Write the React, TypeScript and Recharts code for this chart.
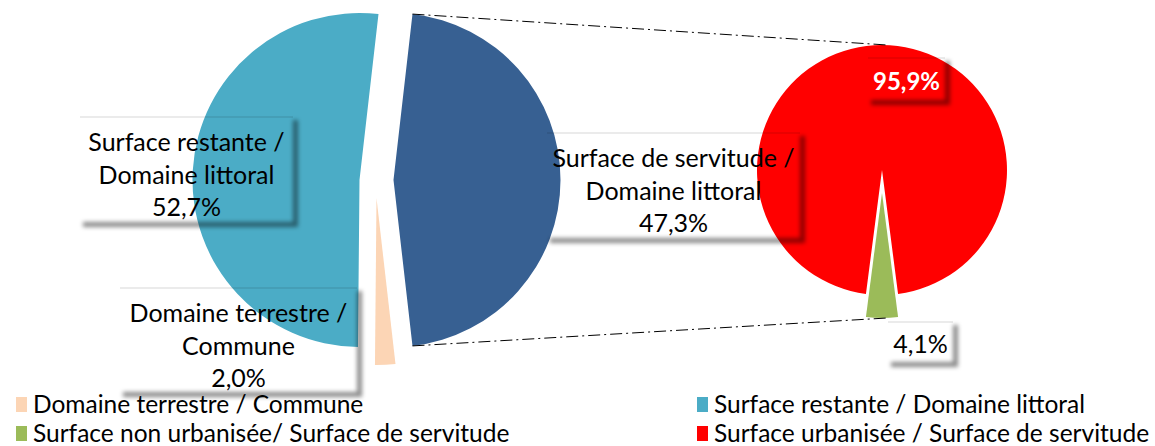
import React from 'react';
import { PieChart, Pie, Cell, Legend } from 'recharts';

// left pie: the main split
const leftNames = [
  'Surface restante / Domaine littoral',
  'Domaine terrestre / Commune',
  'Surface de servitude / Domaine littoral',
];
const leftValues = [52.7, 2.0, 47.3];
const leftPercents = ['52,7%', '2,0%', '47,3%'];

// right pie: breakdown of the servitude slice
const rightNames = [
  'Surface urbanisée / Surface de servitude',
  'Surface non urbanisée/ Surface de servitude',
];
const rightValues = [95.9, 4.1];
const rightPercents = ['95,9%', '4,1%'];

const legendNames = [
  'Domaine terrestre / Commune',
  'Surface restante / Domaine littoral',
  'Surface non urbanisée/ Surface de servitude',
  'Surface urbanisée / Surface de servitude',
];

const leftColors = ['#4BACC6', '#FCD5B5', '#376092'];
const rightColors = ['#FF0000', '#9BBB59'];
const legendColors = ['#FCD5B5', '#4BACC6', '#9BBB59', '#FF0000'];

const W = 1155;
const H = 446;
const FONT = 'Lato, "Liberation Sans", sans-serif';

const leftData = leftNames.map((name, i) => ({ name, value: leftValues[i] }));
const rightData = rightNames.map((name, i) => ({ name, value: rightValues[i] }));

const sum = (a: number[]) => a.reduce((s, v) => s + v, 0);

// the "other" slice sits centred on the horizontal axis, as in Excel pie-of-pie
const leftSpan = (i: number) => (360 * leftValues[i]) / sum(leftValues);
const LEFT_START = leftSpan(2) / 2;
const LEFT_END = LEFT_START + 360;
// small slice of the second pie points straight down
const RIGHT_START = 270 + (180 * rightValues[1]) / sum(rightValues);
const RIGHT_END = RIGHT_START + 360;

const LEFT = { cx: 359.5, cy: 180, r: 167 };
const leftOffsets = [
  [0, 0],
  [17, 18],
  [34, 0],
];
const RIGHT = { cx: 882, cy: 170, r: 125 };
const rightOffsets = [
  [0, 0],
  [0, 23],
];

// label boxes placed like the original
const leftBoxes = [
  { x: 80, y: 117, w: 213, h: 105 },
  { x: 120, y: 288, w: 237, h: 104 },
  { x: 547, y: 133, w: 253, h: 105 },
];
const rightBoxes = [
  { x: 868, y: 58, w: 77, h: 42 },
  { x: 888, y: 322, w: 65, h: 40 },
];

const rad = (a: number) => (a * Math.PI) / 180;

type Box = { x: number; y: number; w: number; h: number };

const ShadowBox = ({ b }: { b: Box }) => {
  const d = 5;
  // right and bottom strips only, blurred
  const right = `M${b.x + b.w},${b.y + 3}h${d}v${b.h + d - 3}h${-d}Z`;
  const bottom = `M${b.x + 3},${b.y + b.h}h${b.w - 3}v${d}h${-(b.w - 3)}Z`;
  return (
    <g>
      <path d={right + bottom} fill="#000" fillOpacity={0.45} filter="url(#soft)" />
      <line x1={b.x} y1={b.y} x2={b.x + b.w} y2={b.y} stroke="#000" strokeOpacity={0.08} strokeWidth={2} />
    </g>
  );
};

const Overlay = () => {
  const dcx = LEFT.cx + leftOffsets[2][0];
  const dcy = LEFT.cy + leftOffsets[2][1];
  const a1 = LEFT_END;
  const a2 = LEFT_END - leftSpan(2);
  const p1 = [dcx + LEFT.r * Math.cos(rad(a1)), dcy - LEFT.r * Math.sin(rad(a1))];
  const p2 = [dcx + LEFT.r * Math.cos(rad(a2)), dcy - LEFT.r * Math.sin(rad(a2))];
  const q1 = [RIGHT.cx + 5, RIGHT.cy - RIGHT.r];
  const q2 = [RIGHT.cx + 5, RIGHT.cy + rightOffsets[1][1] + RIGHT.r];
  return (
    <svg
      width={W}
      height={H}
      style={{ position: 'absolute', left: 0, top: 0, pointerEvents: 'none' }}
    >
      <defs>
        <filter id="soft" x="-50%" y="-50%" width="200%" height="200%">
          <feGaussianBlur stdDeviation="2" />
        </filter>
      </defs>
      <line x1={p1[0]} y1={p1[1]} x2={q1[0]} y2={q1[1]} stroke="#000" strokeWidth={1} strokeDasharray="12 4 2 4" />
      <line x1={p2[0]} y1={p2[1]} x2={q2[0]} y2={q2[1]} stroke="#000" strokeWidth={1} strokeDasharray="12 4 2 4" />
      {leftBoxes.map((b, i) => {
        const parts = leftNames[i].split('/ ');
        const lines = [parts[0] + '/', parts[1], leftPercents[i]];
        return (
          <g key={i}>
            <ShadowBox b={b} />
            {lines.map((t, j) => (
              <text
                key={j}
                x={b.x + b.w / 2}
                y={b.y + 24 + j * 32.5}
                textAnchor="middle"
                dominantBaseline="central"
                fontFamily={FONT}
                fontSize={25}
                fill="#000"
              >
                {t}
              </text>
            ))}
          </g>
        );
      })}
      {rightBoxes.map((b, i) => (
        <g key={i}>
          <ShadowBox b={b} />
          <text
            x={b.x + b.w / 2}
            y={b.y + b.h / 2 + 1}
            textAnchor="middle"
            dominantBaseline="central"
            fontFamily={FONT}
            fontSize={i === 0 ? 24 : 25}
            fontWeight={i === 0 ? 'bold' : 'normal'}
            fill={i === 0 ? '#fff' : '#000'}
          >
            {rightPercents[i]}
          </text>
        </g>
      ))}
    </svg>
  );
};

const LegendBox = () => {
  const cols = [16, 697];
  const rows = [16, 45];
  return (
    <div style={{ position: 'relative', width: W, height: 58, fontFamily: FONT }}>
      {legendNames.map((n, i) => {
        const x = cols[i % 2];
        const y = rows[Math.floor(i / 2)];
        return (
          <div
            key={n}
            style={{ position: 'absolute', left: x, top: y - 13, height: 26, display: 'flex', alignItems: 'center' }}
          >
            <span style={{ width: 11, height: 15, background: legendColors[i], display: 'inline-block', marginRight: 6 }} />
            <span style={{ fontSize: 24.5, lineHeight: '26px', color: '#000', whiteSpace: 'nowrap' }}>{n}</span>
          </div>
        );
      })}
    </div>
  );
};

export default function App() {
  return (
    <div style={{ position: 'absolute', left: 0, top: 0, width: W, height: H, background: '#fff', overflow: 'hidden' }}>
      <PieChart width={W} height={H} margin={{ top: 0, right: 0, bottom: 0, left: 0 }}>
        {leftOffsets.map((o, k) => (
          <Pie
            key={'l' + k}
            data={leftData}
            dataKey="value"
            nameKey="name"
            cx={LEFT.cx + o[0]}
            cy={LEFT.cy + o[1]}
            outerRadius={LEFT.r}
            startAngle={LEFT_START}
            endAngle={LEFT_END}
            stroke="none"
            isAnimationActive={false}
            legendType="none"
          >
            {leftData.map((d, i) => (
              <Cell key={d.name} fill={i === k ? leftColors[i] : 'none'} />
            ))}
          </Pie>
        ))}
        {rightOffsets.map((o, k) => (
          <Pie
            key={'r' + k}
            data={rightData}
            dataKey="value"
            nameKey="name"
            cx={RIGHT.cx + o[0]}
            cy={RIGHT.cy + o[1]}
            outerRadius={RIGHT.r}
            startAngle={RIGHT_START}
            endAngle={RIGHT_END}
            stroke="none"
            isAnimationActive={false}
            legendType="none"
          >
            {rightData.map((d, i) => (
              <Cell key={d.name} fill={i === k ? rightColors[i] : 'none'} />
            ))}
          </Pie>
        ))}
        <Legend content={() => <LegendBox />} wrapperStyle={{ left: 0, top: 388, width: W }} />
      </PieChart>
      <Overlay />
    </div>
  );
}
